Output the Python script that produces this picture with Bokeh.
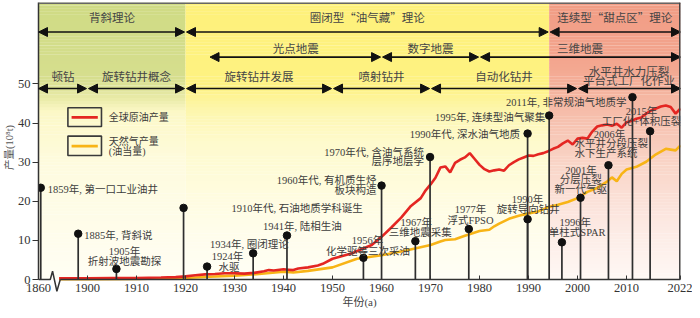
import numpy as np
from bokeh.plotting import figure
from bokeh.models import Range1d, FixedTicker, Arrow, NormalHead, ColumnDataSource
from bokeh.core.properties import value
from bokeh.embed import file_html
from bokeh.resources import INLINE

# ---------------- data (x = position on the chart's broken time axis:
# position 1890 carries the "1860" tick, position 2021 the "2022" edge) ----------
oil_year = [1894.2, 1900, 1905, 1910, 1915, 1918, 1920, 1922, 1924, 1926, 1928, 1930,
            1932, 1934, 1936, 1937, 1938, 1940, 1941, 1942, 1943, 1945, 1947, 1948,
            1950, 1952, 1954, 1956, 1958, 1960, 1962, 1964, 1966, 1968, 1969,
            1970, 1971, 1972, 1973, 1974, 1975, 1976, 1977, 1978, 1979, 1980, 1981,
            1982, 1983, 1984, 1985, 1986, 1987, 1988, 1989, 1990, 1991, 1992, 1993,
            1994, 1995, 1996, 1997, 1998, 1999, 2000, 2001, 2002, 2003, 2004, 2005,
            2006, 2007, 2008, 2009, 2010, 2011, 2012, 2013, 2014, 2015, 2016, 2017,
            2018, 2019, 2020, 2021]
oil_prod = [0.3, 0.3, 0.35, 0.4, 0.5, 0.6, 0.8, 1.1, 1.3, 1.4, 1.6, 1.6,
            1.5, 1.7, 2.1, 2.4, 2.3, 2.6, 2.5, 2.4, 2.8, 3.1, 3.6, 4.0,
            5.3, 6.0, 6.7, 7.8, 8.8, 10.9, 13.3, 15.8, 18.8, 20.8, 22.8,
            24.3, 26.0, 28.6, 28.9, 27.4, 29.8, 30.6, 31.2, 32.3, 30.8, 29.3, 28.2,
            27.6, 27.9, 28.1, 27.8, 29.2, 30.0, 30.7, 31.2, 31.7, 31.6, 32.0, 32.3,
            32.8, 33.4, 33.9, 34.8, 35.5, 34.5, 36.0, 36.2, 36.0, 37.8, 39.1, 39.4,
            39.6, 39.3, 39.8, 38.8, 40.2, 40.5, 41.1, 41.4, 42.4, 43.2, 43.7, 44.2,
            44.5, 44.1, 42.4, 43.7]

gas_year = [1894.2, 1900, 1910, 1920, 1925, 1930, 1935, 1940, 1942, 1945,
            1950, 1955, 1960, 1965, 1970, 1972, 1973, 1975, 1977, 1980,
            1982, 1983, 1984, 1986, 1988, 1990, 1992, 1994, 1996, 1998,
            2000, 2002, 2004, 2006, 2007, 2008, 2009, 2010, 2012, 2014,
            2016, 2018, 2019, 2020, 2021]
gas_prod = [0.1, 0.1, 0.15, 0.4, 0.7, 1.0, 1.4, 2.0, 1.8, 2.2,
            3.1, 5.3, 6.2, 7.4, 8.8, 9.7, 10.1, 10.3, 11.2, 12.4,
            12.7, 13.6, 14.3, 15.5, 16.3, 16.9, 17.4, 18.5, 19.1, 19.8,
            20.8, 22.4, 23.4, 25.0, 26.1, 25.1, 27.0, 28.1, 28.8, 30.1,
            32.0, 33.4, 33.2, 33.0, 34.3]

event_x = [1890.46, 1898.1, 1905.9, 1919.6, 1924.4, 1933.8, 1940.7, 1956.3, 1960.0, 1966.9,
           1969.9, 1977.8, 1989.8, 1989.8, 1994.2, 1996.8, 2000.6, 2006.3, 2011.2, 2014.8]
event_y = [23.45, 11.7, 2.7, 18.3, 3.3, 6.7, 11.25, 5.55, 24.0, 9.8,
           31.3, 12.9, 15.4, 37.3, 41.9, 9.5, 20.9, 29.2, 46.6, 37.9]
event_text = [
    ["1859年, 第一口工业油井"],
    ["1885年, 背斜说"],
    ["1905年", "折射波地震勘探"],
    ["1910年代, 石油地质学科诞生"],
    ["1924年", "水驱"],
    ["1934年, 圈闭理论"],
    ["1941年, 陆相生油"],
    ["1956年", "化学驱等三次采油"],
    ["1960年代, 有机质生烃", "板块构造"],
    ["1967年", "三维地震采集"],
    ["1970年代, 含油气系统", "层序地层学"],
    ["1977年", "浮式FPSO"],
    ["1990年", "旋转导向钻井"],
    ["1990年代, 深水油气地质"],
    ["1995年, 连续型油气聚集"],
    ["1996年", "单柱式SPAR"],
    ["2001年", "分层压裂", "新一代气驱"],
    ["2006年", "水平井分段压裂", "水下生产系统"],
    ["2011年, 非常规油气地质学"],
    ["2015年", "工厂化+体积压裂"],
]

theory_names = ["背斜理论", "圈闭型“油气藏”理论", "连续型“甜点区”理论"]
theory_bounds = [1890, 1920, 1994.2, 2021]
seismic_names = ["光点地震", "数字地震", "三维地震"]
seismic_bounds = [1925, 1960, 1980, 2021]
drilling_names = [["顿钻"], ["旋转钻井概念"], ["旋转钻井发展"], ["喷射钻井"], ["自动化钻井"],
                  ["水平井水力压裂", "平台式工厂化作业"]]
drilling_bounds = [1890, 1900, 1920, 1950, 1970, 2000, 2021]

x_ticks = [1890, 1900, 1910, 1920, 1930, 1940, 1950, 1960, 1970, 1980, 1990, 2000, 2010, 2021]
x_tick_labels = ["1860", "1900", "1910", "1920", "1930", "1940", "1950", "1960", "1970",
                 "1980", "1990", "2000", "2010", "2022"]
y_ticks = [0, 10, 20, 30, 40, 50]

legend_labels = [["全球原油产量"], ["天然气产量", "(油当量)"]]

# ---------------- layout / style ----------------
X0, X1, Y_TOP = 1890, 2021, 70.8
BELOW_PX = 13                      # frame extends this far below the zero line
Y_BOT = -BELOW_PX * Y_TOP / 277.0  # same px scale as above the zero line
OIL_C, GAS_C = "#e42622", "#f8b416"
TXT_C = "#3c3c3c"
SERIF = "Liberation Serif, Noto Sans CJK SC"
CJK = "Noto Sans CJK SC"

# label placement (align, dx px, dy px relative to the dot) per text line
event_label_layout = [
    [("left", 7, 2)],
    [("left", 6, 1.5)],
    [("center", 8, -17.6), ("center", 8, -7.4)],
    [("left", 48, 1)],
    [("center", 20.5, -10), ("center", 22, 0.7)],
    [("center", -3.7, -8.7)],
    [("center", 15.5, -9)],
    [("center", 4.2, -17.3), ("center", 4.7, -6.6)],
    [("right", -5, -5), ("right", -5, 5)],
    [("center", 1, -18.4), ("center", 5, -9)],
    [("right", -6, -5), ("right", -6, 4.5)],
    [("center", 1.7, -19.4), ("center", 1.7, -8.5)],
    [("center", 0, -19.4), ("center", 0.7, -10)],
    [("right", -7.6, 0.7)],
    [("right", -4, 2.3)],
    [("center", 13.3, -20), ("center", 15.3, -10)],
    [("center", 0.6, -27.3), ("center", 0.3, -17.8), ("center", 0.3, -8.6)],
    [("center", 1, -31), ("left", -34, -21.3), ("left", -34, -12)],
    [("right", -6, 5)],
    [("center", -8.7, -20), ("center", -8.7, -10)],
]

p = figure(width=692, height=310, x_range=Range1d(X0, X1), y_range=Range1d(Y_BOT, Y_TOP),
           output_backend="svg", toolbar_location=None,
           min_border_left=38, min_border_right=12, min_border_top=2, min_border_bottom=18)
p.outline_line_color = None
p.grid.visible = False
p.background_fill_color = "white"
p.border_fill_color = "white"

# ---- background gradients ----
def add_gradient(x0, x1, stops, n=90):
    vals = np.array([s[0] for s in stops], dtype=float)
    cols = np.array([s[1] for s in stops], dtype=float)
    edges = np.linspace(0, Y_TOP, n + 1)
    mids = (edges[:-1] + edges[1:]) / 2
    rgb = [np.interp(mids, vals, cols[:, k]) for k in range(3)]
    colors = ["#%02x%02x%02x" % (int(round(r)), int(round(g)), int(round(b)))
              for r, g, b in zip(*rgb)]
    tops = np.minimum(edges[1:] + 0.05, Y_TOP)
    p.quad(left=x0, right=x1, bottom=edges[:-1], top=tops,
           fill_color=colors, line_color=None, level="underlay")

add_gradient(theory_bounds[0], theory_bounds[1],
             [(0, (255, 254, 244)), (30, (254, 251, 222)), (43.0, (252, 248, 198)),
              (46.5, (232, 234, 166)), (51.5, (214, 222, 142)), (Y_TOP, (207, 219, 132))])
add_gradient(theory_bounds[1], theory_bounds[2],
             [(0, (255, 254, 246)), (15, (255, 253, 232)), (35, (254, 250, 205)),
              (43.5, (253, 246, 172)), (49.5, (254, 242, 130)), (Y_TOP, (254, 241, 122))])
add_gradient(theory_bounds[2], theory_bounds[3],
             [(0, (255, 248, 245)), (15, (252, 232, 225)), (30, (249, 212, 198)),
              (45, (245, 185, 165)), (55, (243, 166, 143)), (Y_TOP, (241, 156, 132))])

# ---- production lines ----
p.line(gas_year, gas_prod, color=GAS_C, line_width=2.6)
p.line(oil_year, oil_prod, color=OIL_C, line_width=2.6)

# ---- event lollipops ----
p.segment(x0=event_x, y0=[0] * len(event_x), x1=event_x, y1=event_y,
          line_color="#2e2e2e", line_width=1.7)
p.scatter(event_x, event_y, size=7.5, color="#111111")

groups = {"left": [], "center": [], "right": []}
for ex, ey, lines, lay in zip(event_x, event_y, event_text, event_label_layout):
    for line, (al, dx, dy) in zip(lines, lay):
        groups[al].append((ex, ey, line, dx, dy))
for al, items in groups.items():
    if not items:
        continue
    src = ColumnDataSource(dict(x=[i[0] for i in items], y=[i[1] for i in items],
                                t=[i[2] for i in items], dx=[i[3] for i in items],
                                dy=[i[4] for i in items]))
    p.text(x="x", y="y", text="t", x_offset="dx", y_offset="dy", source=src,
           text_align=al, text_baseline="middle", text_font=value(SERIF),
           text_font_size="10.5px", text_color=TXT_C)

# ---- phase arrows ----
def dbl_arrow(x0, x1, y):
    def head():
        return NormalHead(size=9, fill_color="#111111", line_color="#111111", line_width=1)
    p.add_layout(Arrow(start=head(), end=head(), x_start=x0, x_end=x1, y_start=y, y_end=y,
                       line_color="#111111", line_width=1.6))

def phase_row(names, bounds, arrow_y, label_y, line_gap=2.35):
    lx, ly, lt = [], [], []
    for i, nm in enumerate(names):
        a, b = bounds[i], bounds[i + 1]
        a2 = a + (0.2 if i > 0 else 0)
        b2 = b - (0.2 if i < len(names) - 1 else 0)
        dbl_arrow(a2, b2, arrow_y)
        lines = nm if isinstance(nm, list) else [nm]
        n = len(lines)
        for k, s in enumerate(lines):
            lx.append((a + b) / 2)
            ly.append(label_y + (n - 1) / 2 * line_gap - k * line_gap)
            lt.append(s)
    p.text(x=lx, y=ly, text=lt, text_align="center", text_baseline="middle",
           text_font=value(CJK), text_font_size="11.5px", text_color="#454545")

phase_row(theory_names, theory_bounds, 63.25, 67.0)
phase_row(seismic_names, seismic_bounds, 56.85, 59.1)
phase_row(drilling_names, drilling_bounds, 48.8, 52.1)

# ---- legend (boxed samples) ----
p.quad(left=[1896.0, 1896.0], right=[1902.85, 1902.85], top=[43.9, 36.65],
       bottom=[39.1, 31.7], fill_color=None, line_color="#3a3a3a", line_width=1.6)
p.line([1896.75, 1902.1], [41.45, 41.45], color=OIL_C, line_width=2.6)
p.line([1896.75, 1902.1], [34.1, 34.1], color=GAS_C, line_width=2.6)
p.text(x=[1904.35, 1904.35, 1904.35], y=[41.45, 35.3, 32.6],
       text=[legend_labels[0][0], legend_labels[1][0], legend_labels[1][1]],
       text_align="left", text_baseline="middle", text_font=value(SERIF),
       text_font_size="10px", text_color=TXT_C)

# ---- frame edges and broken x-axis line (zero line with break mark) ----
def seg(x0, y0, x1, y1, color="#3a3a3a", w=1.5):
    p.add_layout(Arrow(end=None, start=None, x_start=x0, y_start=y0, x_end=x1, y_end=y1,
                       line_color=color, line_width=w))

seg(X0, Y_TOP, X1, Y_TOP, "#666666", 3.0)
seg(X1, 0, X1, Y_TOP, "#444444", 3.0)
p.line([X0, 1892.4, 1892.87, 1893.75, 1894.44], [0, 0, 2.12, -3.0, 0],
       line_color="#333333", line_width=1.5)
p.line([1894.44, X1], [0, 0], line_color="#333333", line_width=1.5)

# ---- axes ----
xa = p.xaxis[0]
xa.ticker = FixedTicker(ticks=x_ticks)
ov = {}
for t, s in zip(x_ticks, x_tick_labels):
    ov[t] = s
    ov[str(t)] = s
xa.major_label_overrides = ov
xa.axis_line_color = None
xa.major_tick_in = BELOW_PX + 4
xa.major_tick_out = -BELOW_PX
xa.minor_tick_out = 0
xa.minor_tick_line_color = None
xa.major_tick_line_color = "#333333"
xa.major_label_standoff = -9
xa.major_label_text_font = "Liberation Serif"
xa.major_label_text_font_size = "12.5px"
xa.major_label_text_color = "#333333"
xa.axis_label = "年份(a)"
xa.axis_label_standoff = 1
xa.axis_label_text_font = SERIF
xa.axis_label_text_font_size = "11px"
xa.axis_label_text_font_style = "normal"
xa.axis_label_text_color = "#444444"

ya = p.yaxis[0]
ya.ticker = FixedTicker(ticks=y_ticks)
ya.bounds = (0, Y_TOP)
ya.axis_line_color = "#333333"
ya.axis_line_width = 1.5
ya.major_tick_out = 6
ya.major_tick_in = 0
ya.minor_tick_line_color = None
ya.major_tick_line_color = "#333333"
ya.major_label_standoff = 2
ya.major_label_text_font = "Liberation Serif"
ya.major_label_text_font_size = "12.5px"
ya.major_label_text_color = "#333333"
ya.axis_label = "产量(10⁸t)"
ya.axis_label_standoff = 0
ya.axis_label_text_font = SERIF
ya.axis_label_text_font_size = "10.5px"
ya.axis_label_text_font_style = "normal"
ya.axis_label_text_color = "#555555"

open("out.html", "w").write(file_html(p, INLINE))
